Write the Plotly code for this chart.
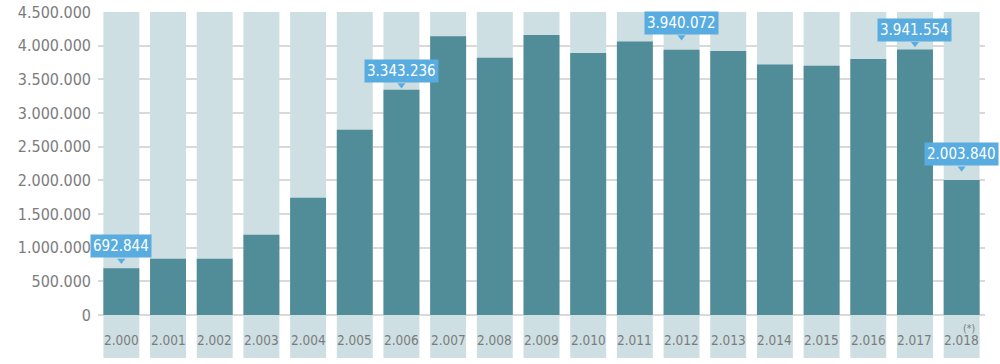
import plotly.graph_objects as go

# ---- data ----
YEARS = ["2.000", "2.001", "2.002", "2.003", "2.004", "2.005", "2.006", "2.007", "2.008", "2.009",
         "2.010", "2.011", "2.012", "2.013", "2.014", "2.015", "2.016", "2.017", "2.018"]
VALUES = [692844, 836000, 836000, 1190000, 1740000, 2750000, 3343236, 4140000, 3820000, 4160000,
          3890000, 4060000, 3940072, 3920000, 3720000, 3700000, 3800000, 3941554, 2003840]
CALLOUT_IDX = [0, 6, 12, 17, 18]
Y_TICKS = [0, 500000, 1000000, 1500000, 2000000, 2500000, 3000000, 3500000, 4000000, 4500000]
Y_TICK_TEXT = ["0", "500.000", "1.000.000", "1.500.000", "2.000.000", "2.500.000",
               "3.000.000", "3.500.000", "4.000.000", "4.500.000"]
FOOTNOTE_MARK = "(*)"

# ---- style ----
W, H = 1000, 364
M_L, M_R, M_T, M_B = 98, 15, 12, 6
AXIS_MAX = 4500000
AXIS_MIN = -640000
CALLOUT_SHIFTS = [10, 7, 15, 8, 14]   # px between bar top and callout box
DARK = "#508d99"
LIGHT = "#cddfe2"
BLUE = "#58ace0"
GRID = "#d9d9d9"
TXT = "#7c7c7c"
FONT = "DejaVu Sans Condensed, Liberation Sans Narrow, sans-serif"

plot_h = H - M_T - M_B
units_per_px = (AXIS_MAX - AXIS_MIN) / plot_h

def fmt(v):
    return f"{v:,}".replace(",", ".")

fig = go.Figure()
fig.add_trace(go.Bar(x=YEARS, y=[AXIS_MAX - AXIS_MIN] * len(YEARS), base=AXIS_MIN,
                     marker=dict(color=LIGHT, line=dict(width=0)), hoverinfo="skip"))
fig.add_trace(go.Bar(x=YEARS, y=VALUES, marker=dict(color=DARK, line=dict(width=0))))

# pointer triangles
tri_x = [YEARS[i] for i in CALLOUT_IDX]
tri_y = [VALUES[i] + (s - 2.2) * units_per_px for i, s in zip(CALLOUT_IDX, CALLOUT_SHIFTS)]
fig.add_trace(go.Scatter(x=tri_x, y=tri_y, mode="markers",
                         marker=dict(symbol="triangle-down", size=7, color=BLUE, line=dict(width=0)),
                         hoverinfo="skip", cliponaxis=False))

annotations = []
for i, s in zip(CALLOUT_IDX, CALLOUT_SHIFTS):
    annotations.append(dict(x=i, y=VALUES[i], xref="x", yref="y", text=fmt(VALUES[i]),
                            showarrow=False, yanchor="bottom", yshift=s, bgcolor=BLUE,
                            borderpad=2, font=dict(family=FONT, size=15, color="white")))
label_y = -0.37e6
for i, yl in enumerate(YEARS):
    annotations.append(dict(x=i, y=label_y, xref="x", yref="y", text=yl, showarrow=False,
                            yanchor="middle", font=dict(family=FONT, size=13.5, color=TXT)))
annotations.append(dict(x=len(YEARS) - 1, y=label_y, xref="x", yref="y", text=FOOTNOTE_MARK,
                        showarrow=False, yanchor="middle", xshift=7, yshift=12,
                        font=dict(family=FONT, size=10.5, color=TXT)))

fig.update_layout(
    width=W, height=H, margin=dict(l=M_L, r=M_R, t=M_T, b=M_B, autoexpand=False),
    paper_bgcolor="white", plot_bgcolor="white",
    barmode="overlay", bargap=0.23, showlegend=False, hovermode=False,
    annotations=annotations,
    xaxis=dict(type="category", showticklabels=False, showgrid=False, zeroline=False,
               showline=False, range=[-0.5, len(YEARS) - 0.5], fixedrange=True, automargin=False),
    yaxis=dict(range=[AXIS_MIN, AXIS_MAX], tickvals=Y_TICKS, ticktext=Y_TICK_TEXT,
               showgrid=True, gridcolor=GRID, gridwidth=1.5, zeroline=False, showline=False,
               ticks="", ticklabelstandoff=6, automargin=False, fixedrange=True,
               tickfont=dict(family=FONT, size=16, color=TXT)),
)

fig.write_html("out.html", config={"displayModeBar": False},
               post_script="document.body.style.margin='0';")
